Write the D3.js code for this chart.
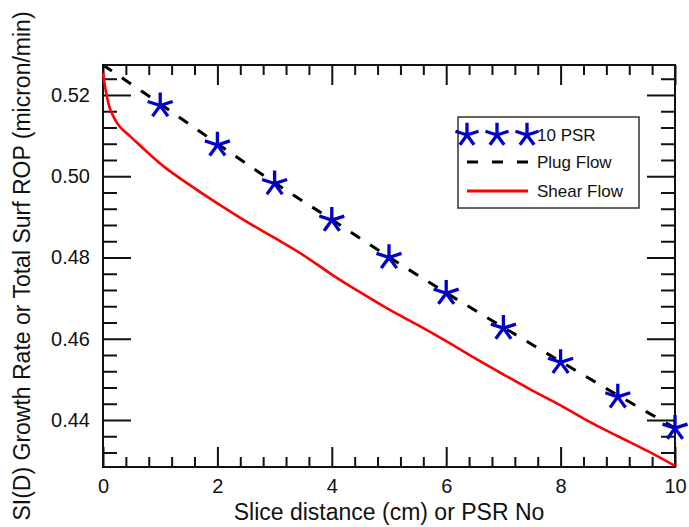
<!DOCTYPE html>
<html>
<head>
<meta charset="utf-8">
<script src="https://cdn.jsdelivr.net/npm/d3@7"></script>
<style>
  body { margin: 0; background: #fff; }
  text { font-family: "Liberation Sans", Arial, sans-serif; fill: #111; }
</style>
</head>
<body>
<div id="chart"></div>
<script>
// 10 PSR points (stars)
const psrX = [1, 2, 3, 4, 5, 6, 7, 8, 9, 10]
const psrY = [0.5174, 0.5077, 0.4982, 0.4892, 0.4800, 0.4712, 0.4626, 0.4542, 0.4457, 0.4380]

// plug flow (dashed black)
const plugX = [0, 1, 2, 3, 4, 5, 6, 7, 8, 9, 10]
const plugY = [0.5274, 0.5178, 0.5080, 0.4984, 0.4893, 0.4801, 0.4713, 0.4628, 0.4544, 0.4461, 0.4380]

// shear flow (red)
const shearX = [0, 0.03, 0.07, 0.12, 0.2, 0.3, 0.5, 0.8, 1.1, 1.5, 2, 2.5, 3, 3.5, 4, 4.5, 5, 5.5, 6, 6.5, 7, 7.5, 8, 8.5, 9, 9.5, 10]
const shearY = [0.5255, 0.5225, 0.5195, 0.5167, 0.5142, 0.5121, 0.5095, 0.5056, 0.5020, 0.4980, 0.4933, 0.4889, 0.4848, 0.4806, 0.4758, 0.4714, 0.4672, 0.4634, 0.4594, 0.4552, 0.4512, 0.4473, 0.4436, 0.4396, 0.4360, 0.4325, 0.4287]

const xTicks = [0, 2, 4, 6, 8, 10]
const yTicks = [0.44, 0.46, 0.48, 0.50, 0.52]
const xDomain = [0, 10]
const yDomain = [0.42843, 0.52738]

const legendLabels = ['10 PSR', 'Plug Flow', 'Shear Flow']

const width = 689, height = 527
const plotL = 103, plotR = 675, plotT = 65, plotB = 467

const svg = d3.select('#chart').append('svg')
    .attr('width', width)
    .attr('height', height)

const x = d3.scaleLinear().domain(xDomain).range([plotL, plotR])
const y = d3.scaleLinear().domain(yDomain).range([plotB, plotT])

// minor ticks every 0.4 on x and 0.004 on y
const xMinor = d3.range(0, 10.001, 0.4).filter(v => !xTicks.some(t => Math.abs(t - v) < 1e-6))
const yMinor = d3.range(0.432, 0.5274, 0.004).filter(v => !yTicks.some(t => Math.abs(t - v) < 1e-6))

const xMaj = 20, xMin = 10, yMaj = 28, yMin = 14

function styleAxis(g) {
    g.select('.domain').remove()
    g.selectAll('line').attr('stroke', '#111').attr('stroke-width', 2)
    g.selectAll('text').style('font-size', '20px').attr('fill', '#111')
}

// bottom
svg.append('g').attr('transform', `translate(0,${plotB})`)
    .call(d3.axisBottom(x).tickValues(xTicks).tickSize(-xMaj).tickPadding(12).tickFormat(d3.format('d')))
    .call(styleAxis)
svg.append('g').attr('transform', `translate(0,${plotB})`)
    .call(d3.axisBottom(x).tickValues(xMinor).tickSize(-xMin).tickFormat(''))
    .call(styleAxis)
// top
svg.append('g').attr('transform', `translate(0,${plotT})`)
    .call(d3.axisTop(x).tickValues(xTicks).tickSize(-xMaj).tickFormat(''))
    .call(styleAxis)
svg.append('g').attr('transform', `translate(0,${plotT})`)
    .call(d3.axisTop(x).tickValues(xMinor).tickSize(-xMin).tickFormat(''))
    .call(styleAxis)
// left
svg.append('g').attr('transform', `translate(${plotL},0)`)
    .call(d3.axisLeft(y).tickValues(yTicks).tickSize(-yMaj).tickPadding(13).tickFormat(d3.format('.2f')))
    .call(styleAxis)
svg.append('g').attr('transform', `translate(${plotL},0)`)
    .call(d3.axisLeft(y).tickValues(yMinor).tickSize(-yMin).tickFormat(''))
    .call(styleAxis)
// right
svg.append('g').attr('transform', `translate(${plotR},0)`)
    .call(d3.axisRight(y).tickValues(yTicks).tickSize(-yMaj).tickFormat(''))
    .call(styleAxis)
svg.append('g').attr('transform', `translate(${plotR},0)`)
    .call(d3.axisRight(y).tickValues(yMinor).tickSize(-yMin).tickFormat(''))
    .call(styleAxis)

// frame
svg.append('rect')
    .attr('x', plotL).attr('y', plotT)
    .attr('width', plotR - plotL).attr('height', plotB - plotT)
    .attr('fill', 'none').attr('stroke', '#111').attr('stroke-width', 2)

const line = d3.line().x(d => x(d[0])).y(d => y(d[1])).curve(d3.curveCatmullRom.alpha(0.5))

// shear flow
svg.append('path')
    .datum(d3.zip(shearX, shearY))
    .attr('d', line)
    .attr('fill', 'none')
    .attr('stroke', '#ff0000')
    .attr('stroke-width', 2.6)

// plug flow
svg.append('path')
    .datum(d3.zip(plugX, plugY))
    .attr('d', line)
    .attr('fill', 'none')
    .attr('stroke', '#000')
    .attr('stroke-width', 3)
    .attr('stroke-dasharray', '11,12')

// asterisk symbol, five arms
function asterisk(r) {
    const angles = [-90, -18, 54, 126, 198]
    return angles.map(a => {
        const t = a * Math.PI / 180
        return `M0,0L${(r * Math.cos(t)).toFixed(2)},${(r * Math.sin(t)).toFixed(2)}`
    }).join('')
}

svg.append('g').selectAll('path')
    .data(d3.zip(psrX, psrY))
    .enter()
    .append('path')
    .attr('transform', d => `translate(${x(d[0])},${y(d[1])})`)
    .attr('d', asterisk(11.5))
    .attr('fill', 'none')
    .attr('stroke', '#0000cc')
    .attr('stroke-width', 3.3)
    .attr('stroke-linecap', 'square')

// axis titles
svg.append('text')
    .attr('x', (plotL + plotR) / 2)
    .attr('y', 520)
    .attr('text-anchor', 'middle')
    .style('font-size', '23px')
    .text('Slice distance (cm) or PSR No')

svg.append('text')
    .attr('transform', `translate(30,${(plotT + plotB) / 2}) rotate(-90)`)
    .attr('text-anchor', 'middle')
    .style('font-size', '23px')
    .text('SI(D) Growth Rate or Total Surf ROP (micron/min)')

// legend
const lg = svg.append('g')
lg.append('rect')
    .attr('x', 458).attr('y', 117)
    .attr('width', 181).attr('height', 91)
    .attr('fill', '#fff')
    .attr('stroke', '#333').attr('stroke-width', 1.5)

const rowY = [135, 162, 191]
lg.selectAll('.lstar')
    .data([467, 497, 527])
    .enter()
    .append('path')
    .attr('transform', d => `translate(${d},${rowY[0]})`)
    .attr('d', asterisk(10.5))
    .attr('fill', 'none')
    .attr('stroke', '#0000cc')
    .attr('stroke-width', 3.3)
    .attr('stroke-linecap', 'square')

lg.append('line')
    .attr('x1', 467).attr('x2', 528)
    .attr('y1', rowY[1]).attr('y2', rowY[1])
    .attr('stroke', '#000').attr('stroke-width', 3)
    .attr('stroke-dasharray', '11,14')

lg.append('line')
    .attr('x1', 467).attr('x2', 528)
    .attr('y1', rowY[2]).attr('y2', rowY[2])
    .attr('stroke', '#ff0000').attr('stroke-width', 3)

lg.selectAll('.ltxt')
    .data(legendLabels)
    .enter()
    .append('text')
    .attr('x', 537)
    .attr('y', (d, i) => rowY[i])
    .attr('dy', '0.36em')
    .style('font-size', '17px')
    .text(d => d)
</script>
</body>
</html>
